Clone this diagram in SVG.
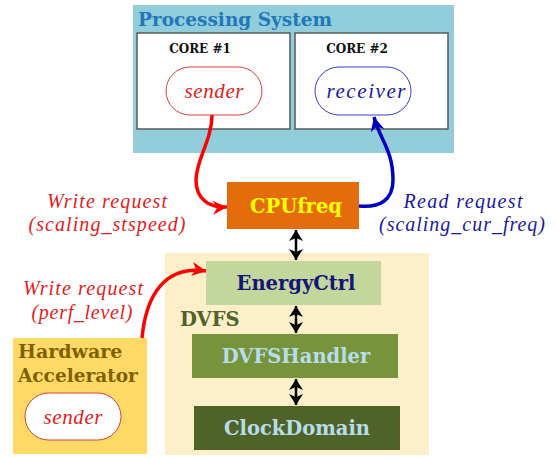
<svg xmlns="http://www.w3.org/2000/svg" width="556" height="458" viewBox="0 0 556 458">
<style>
.bs{font-family:"DejaVu Serif","Liberation Serif",serif;font-weight:bold}
.it{font-family:"Liberation Serif","DejaVu Serif",serif;font-style:italic}
.core{fill:#fff;stroke:#595959;stroke-width:1.5}
.dbl{stroke:#000;stroke-width:2.5;fill:none;marker-start:url(#ka);marker-end:url(#ka)}
</style>
<defs>
<marker id="ra" markerUnits="userSpaceOnUse" markerWidth="16" markerHeight="14" refX="14" refY="7" orient="auto"><path d="M0,0 L14,7 L0,14 L4,7 Z" fill="#ff0000"/></marker>
<marker id="ba" markerUnits="userSpaceOnUse" markerWidth="16" markerHeight="14" refX="14" refY="7" orient="auto"><path d="M0,0 L14,7 L0,14 L4,7 Z" fill="#0000c0"/></marker>
<marker id="ka" markerUnits="userSpaceOnUse" markerWidth="12" markerHeight="14" refX="11" refY="7" orient="auto-start-reverse"><path d="M0,0 L11,7 L0,14 L3,7 Z" fill="#000"/></marker>
</defs>
<g id="processing-system">
<rect x="133" y="5" width="321" height="148" fill="#92cddc"/>
<text class="bs" x="138" y="26" font-size="18.5" fill="#2177b8">Processing System</text>
</g>
<g id="core1">
<rect class="core" x="137" y="33" width="153" height="96"/>
<text class="bs" x="200" y="53" font-size="12" text-anchor="middle" fill="#111">CORE #1</text>
</g>
<g id="core2">
<rect class="core" x="295" y="33" width="153" height="96"/>
<text class="bs" x="357" y="53" font-size="12" text-anchor="middle" fill="#111">CORE #2</text>
</g>
<g id="sender1">
<rect x="166" y="67" width="96" height="48" rx="24" fill="#fff" stroke="#e03c3c" stroke-width="1"/>
<text class="it" x="214" y="98" font-size="21" text-anchor="middle" fill="#e31c1c" textLength="59" lengthAdjust="spacing">sender</text>
</g>
<g id="receiver">
<rect x="315" y="67" width="96" height="48" rx="24" fill="#fff" stroke="#3a3ac8" stroke-width="1"/>
<text class="it" x="366" y="98" font-size="21" text-anchor="middle" fill="#1a1aa0" textLength="79" lengthAdjust="spacing">receiver</text>
</g>
<g id="dvfs">
<rect x="165" y="253" width="264" height="202" fill="#fdefca"/>
<text class="bs" x="180" y="326" font-size="19.5" fill="#4f6228">DVFS</text>
</g>
<g id="cpufreq">
<rect x="227" y="182" width="132" height="47" fill="#e46c0a"/>
<text class="bs" x="296" y="213" font-size="19.5" text-anchor="middle" fill="#ffff00">CPUfreq</text>
</g>
<g id="energyctrl">
<rect x="206" y="261" width="175" height="44" fill="#c3d69b"/>
<text class="bs" x="296" y="290" font-size="19.5" text-anchor="middle" fill="#14147a">EnergyCtrl</text>
</g>
<g id="dvfshandler">
<rect x="192" y="334" width="206" height="44" fill="#77933c"/>
<text class="bs" x="296" y="363" font-size="19.5" text-anchor="middle" fill="#b7dee8">DVFSHandler</text>
</g>
<g id="clockdomain">
<rect x="194" y="406" width="206" height="44" fill="#4f6228"/>
<text class="bs" x="297" y="435" font-size="19.5" text-anchor="middle" fill="#b7dee8">ClockDomain</text>
</g>
<g id="hw-accel">
<rect x="13" y="338" width="134" height="116" fill="#ffd966"/>
<text class="bs" x="18" y="358" font-size="19" fill="#7f6000">Hardware</text>
<text class="bs" x="18" y="382" font-size="18.5" fill="#7f6000">Accelerator</text>
</g>
<g id="sender2">
<rect x="25" y="393" width="96" height="47" rx="23.5" fill="#fff" stroke="#e03c3c" stroke-width="1"/>
<text class="it" x="73" y="424" font-size="21" text-anchor="middle" fill="#e31c1c" textLength="59" lengthAdjust="spacing">sender</text>
</g>
<g id="connectors">
<path d="M212,115 C212,140 196,160 196,180 C196,200 210,208 227,207" fill="none" stroke="#ff0000" stroke-width="3.5" marker-end="url(#ra)"/>
<path d="M359,206 C380,208 393,200 393,180 C393,150 380,140 374,117" fill="none" stroke="#0000c0" stroke-width="3.5" marker-end="url(#ba)"/>
<path d="M142,338 C146,295 165,265 206,271" fill="none" stroke="#ff0000" stroke-width="3.5" marker-end="url(#ra)"/>
<line class="dbl" x1="296" y1="230" x2="296" y2="260"/>
<line class="dbl" x1="296" y1="306" x2="296" y2="333"/>
<line class="dbl" x1="296" y1="379" x2="296" y2="405"/>
</g>
<g id="labels">
<text class="it" x="107" y="208" font-size="20" text-anchor="middle" fill="#e31c1c" textLength="120" lengthAdjust="spacing">Write request</text>
<text class="it" x="107" y="231" font-size="20" text-anchor="middle" fill="#e31c1c" textLength="157" lengthAdjust="spacing">(scaling_stspeed)</text>
<text class="it" x="463" y="208" font-size="20" text-anchor="middle" fill="#1a1aa0" textLength="119" lengthAdjust="spacing">Read request</text>
<text class="it" x="462" y="231" font-size="20" text-anchor="middle" fill="#1a1aa0" textLength="166" lengthAdjust="spacing">(scaling_cur_freq)</text>
<text class="it" x="83" y="295" font-size="20" text-anchor="middle" fill="#e31c1c" textLength="120" lengthAdjust="spacing">Write request</text>
<text class="it" x="82" y="319" font-size="20" text-anchor="middle" fill="#e31c1c" textLength="101" lengthAdjust="spacing">(perf_level)</text>
</g>
</svg>
